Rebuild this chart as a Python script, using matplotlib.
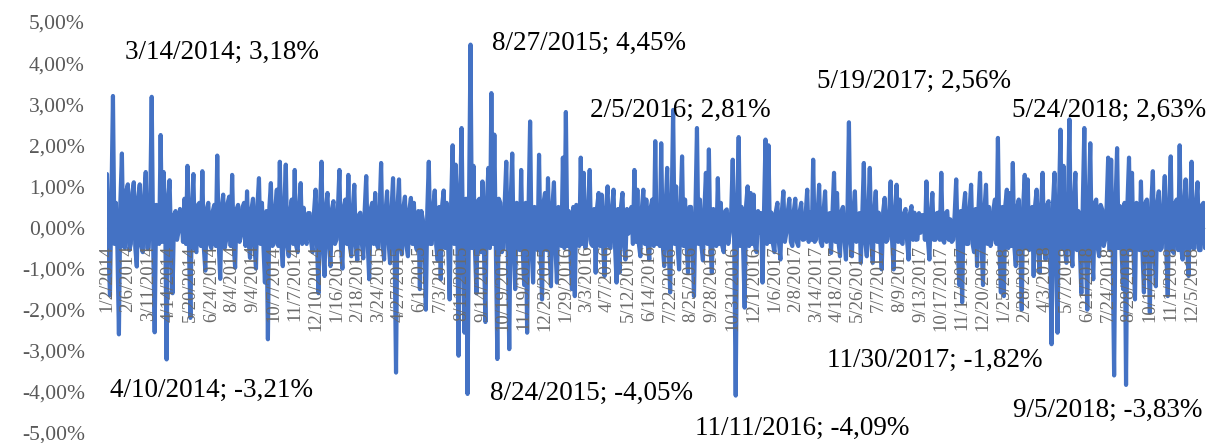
import matplotlib.pyplot as plt
import numpy as np

# Etiquetas del eje x (una cada 14 puntos de la serie)
tick_labels = [
    '1/2/2014', '2/6/2014', '3/11/2014', '4/14/2014', '5/20/2014', '6/24/2014',
    '8/4/2014', '9/4/2014', '10/7/2014', '11/7/2014', '12/10/2014',
    '1/16/2015', '2/18/2015', '3/24/2015', '4/27/2015', '6/1/2015', '7/3/2015',
    '8/11/2015', '9/14/2015', '10/19/2015', '11/19/2015', '12/23/2015',
    '1/29/2016', '3/3/2016', '4/7/2016', '5/12/2016', '6/14/2016', '7/22/2016',
    '8/25/2016', '9/28/2016', '10/31/2016', '12/1/2016',
    '1/6/2017', '2/8/2017', '3/14/2017', '4/18/2017', '5/26/2017', '7/7/2017',
    '8/9/2017', '9/13/2017', '10/17/2017', '11/17/2017', '12/20/2017',
    '1/25/2018', '2/28/2018', '4/3/2018', '5/7/2018', '6/21/2018', '7/24/2018',
    '8/28/2018', '10/1/2018', '11/1/2018', '12/5/2018',
]

# Rentabilidades diarias (%), 14 valores por etiqueta
returns = [
    1.30, -0.60, -1.65, 0.70, 3.20, -0.40, 0.60, -0.55, -2.60, 0.65, 1.80, -0.45, -0.50, 0.90,
    1.05, -0.55, -0.40, 0.85, 1.10, -0.50, -0.95, 0.75, 1.05, -0.45, -0.60, 0.80, 1.35, -0.50,
    -0.50, 0.60, 3.18, -0.45, -2.55, 0.55, 0.40, -0.40, 2.25, -0.35, 1.35, 0.45, -3.21, 0.60,
    1.15, -0.40, -1.60, 0.30, 0.40, -0.30, -0.10, 0.45, 0.35, -0.35, 0.70, -0.40, 1.50, -0.45,
    -2.20, 0.55, 1.30, -0.50, -0.60, 0.55, 0.60, -0.45, 1.37, -0.50, -1.05, 0.45, 0.60, -0.40,
    -0.50, 0.40, 0.55, -0.45, 1.75, -0.40, -1.25, 0.50, 0.80, -0.50, -0.30, 0.60, 0.75, -0.45,
    1.28, -0.40, -0.98, 0.45, 0.55, -0.35, -0.20, 0.50, 0.60, -0.45, 0.88, -0.30, -0.74, 0.45,
    0.70, -0.45, -1.00, 0.55, 1.20, -0.40, 0.60, -0.45, -1.34, 0.40, -2.72, 0.50, 1.08, -0.45,
    -0.40, 0.50, 0.92, -0.45, 1.60, -0.40, -0.94, 0.50, 1.53, -0.45, -0.70, 0.40, 0.68, -0.40,
    1.40, -0.45, -0.60, 0.50, 1.08, -0.40, 0.48, -0.30, -0.40, 0.35, 0.35, -0.35, -0.60, 0.40,
    0.92, -0.45, -1.60, 0.50, 1.60, -0.45, -1.18, 0.50, 0.84, -0.40, -0.94, 0.45, 0.64, -0.40,
    -0.30, 0.45, 1.40, -0.45, -1.00, 0.50, 0.68, -0.40, 1.28, -0.45, -0.70, 0.45, 1.04, -0.45,
    -0.80, 0.30, 0.36, -0.35, -0.75, 0.45, 1.25, -0.40, -1.26, 0.45, 0.60, -0.40, 0.84, -0.40,
    -0.50, 0.45, 1.57, -0.45, -0.78, 0.40, 0.88, -0.35, -0.87, 0.45, 1.20, -0.40, -3.53, 0.50,
    1.17, -0.45, -0.65, 0.50, 0.75, -0.45, -0.70, 0.45, 0.72, -0.40, 0.60, -0.40, -0.55, 0.40,
    -1.50, 0.40, 0.20, -0.45, -2.00, 0.45, 1.60, -0.40, -0.40, 0.50, 0.90, -0.45, -0.80, 0.50,
    -1.26, 0.55, 0.90, -0.50, 0.60, -0.45, -1.75, 0.60, 2.00, -0.40, 1.53, 0.50, -3.12, 0.60,
    2.42, -0.50, -2.56, 0.70, -4.05, 0.60, 4.45, -0.50, 1.50, -0.55, -1.60, 0.65, 0.70, -0.60,
    1.12, -0.50, -2.30, 0.65, 1.45, -0.50, 3.27, -0.40, 2.26, -0.45, -3.20, 0.70, 0.60, -0.60,
    -0.50, 0.65, 1.60, -0.55, -2.96, 0.70, 1.80, -0.50, -1.50, 0.60, 0.50, -0.55, 1.40, -0.50,
    -1.40, 0.60, -2.56, 0.55, 2.58, -0.50, -1.34, 0.50, 0.40, -0.55, 1.77, -0.50, -1.75, 0.60,
    0.84, -0.55, 1.20, -0.50, -1.43, 0.55, 1.10, -0.50, -1.34, 0.50, 0.30, -0.45, 1.70, -0.50,
    2.81, -0.45, 0.40, -0.55, -1.50, 0.50, -1.67, 0.55, 0.30, -0.45, 1.70, -0.40, 1.33, -0.50,
    -0.30, 0.50, 1.40, -0.40, -0.45, 0.45, -1.10, 0.50, 0.84, -0.45, 0.80, -0.45, -1.18, 0.50,
    1.00, -0.45, -0.50, 0.50, 0.92, -0.45, -1.34, 0.45, -1.10, 0.50, 0.84, -0.40, -0.78, 0.45,
    -0.15, 0.40, 0.50, -0.40, 1.40, -0.35, 0.92, -0.40, -0.70, 0.45, 0.92, -0.40, 0.68, -0.45,
    -0.78, 0.50, 0.68, -0.45, 2.10, -0.40, 0.40, -0.45, 2.05, -0.40, -0.94, 0.50, 1.45, -0.45,
    -1.58, 0.50, 2.86, -0.40, 1.00, -0.45, -1.02, 0.50, 1.73, -0.45, 0.68, -0.40, -1.10, 0.50,
    0.50, -0.45, -1.67, 0.50, 2.42, -0.40, 0.68, -0.45, -0.80, 0.45, 1.33, -0.40, 1.90, -0.45,
    -1.10, 0.45, 0.40, -0.45, 1.20, -0.40, 0.60, -0.45, -0.60, 0.40, 0.44, -0.40, -0.13, 0.40,
    1.65, -0.45, -4.09, 0.50, 2.20, -0.45, 0.50, -0.50, -1.95, 0.55, 1.00, -0.45, 0.84, -0.40,
    0.80, -0.45, -0.60, 0.40, -0.13, 0.35, -1.34, 0.45, 2.14, -0.40, 2.00, -0.35, 0.36, -0.40,
    -0.60, 0.40, 0.60, -0.35, -0.78, 0.40, 0.88, -0.35, -0.13, 0.40, 0.70, -0.35, -0.45, 0.40,
    0.70, -0.35, -0.45, 0.40, 0.60, -0.30, -0.29, 0.35, 0.92, -0.35, 0.36, -0.30, 1.65, -0.35,
    -0.29, 0.35, 1.04, -0.35, -0.45, 0.40, 0.88, -0.35, -0.10, 0.35, -0.62, 0.40, 1.33, -0.35,
    0.84, -0.35, -0.70, 0.40, 0.50, -0.30, -0.78, 0.35, 2.56, -0.35, -0.70, 0.40, 0.88, -0.35,
    -0.29, 0.35, -0.86, 0.40, 1.57, -0.35, -0.70, 0.40, 1.45, -0.35, -0.86, 0.40, 0.88, -0.35,
    0.36, -0.30, -1.02, 0.40, 0.72, -0.35, -0.29, 0.35, 1.12, -0.35, -1.02, 0.40, 1.04, -0.35,
    0.68, -0.35, -0.40, 0.35, 0.45, -0.30, -0.78, 0.35, 0.52, -0.30, 0.36, -0.30, -0.29, 0.35,
    -0.13, 0.30, 0.30, -0.30, 1.12, -0.30, -0.78, 0.35, 0.84, -0.30, -0.30, 0.35, 0.36, -0.30,
    1.33, -0.30, -0.37, 0.35, 0.40, -0.30, 0.20, -0.35, -0.30, 0.35, 1.17, -0.35, -1.40, 0.40,
    -1.82, 0.45, 0.84, -0.40, -0.40, 0.45, 1.04, -0.40, -0.60, 0.45, -0.94, 0.50, 1.33, -0.40,
    -1.40, 0.45, 1.04, -0.40, 0.50, -0.45, -0.30, 0.45, 0.68, -0.40, 2.18, -0.45, -1.58, 0.50,
    -1.67, 0.55, 0.92, -0.50, 0.84, -0.45, 1.57, -0.45, -0.94, 0.50, 0.68, -0.50, -2.00, 0.55,
    1.28, -0.50, 1.17, -0.55, -0.40, 0.50, -1.18, 0.55, 0.92, -0.50, -1.10, 0.55, 1.33, -0.50,
    -0.78, 0.55, 0.64, -0.50, -2.84, 0.60, 1.33, -0.55, -2.56, 0.65, 2.38, -0.50, 1.50, -0.55,
    -0.86, 0.60, 2.63, -0.50, -0.94, 0.60, 1.33, -0.55, 0.40, -0.50, -1.60, 0.65, 2.42, -0.55,
    -2.00, 0.60, 2.05, -0.55, -1.26, 0.60, 0.68, -0.50, -0.70, 0.55, 0.44, -0.45, -0.30, 0.55,
    1.70, -0.55, 1.65, -0.60, -3.60, 0.65, 1.93, -0.50, 0.52, -0.55, -1.50, 0.60, -3.83, 0.65,
    1.70, -0.55, 1.33, -0.60, -1.75, 0.60, 0.50, -0.55, 1.12, -0.55, -1.58, 0.60, 0.68, -0.55,
    -2.07, 0.60, 1.37, -0.55, -1.43, 0.60, 0.88, -0.55, -0.50, 0.55, 1.25, -0.55, -1.67, 0.60,
    1.73, -0.55, -0.62, 0.60, 0.68, -0.55, 2.00, -0.50, -0.78, 0.60, 1.17, -0.55, -1.18, 0.60,
    1.60, -0.50, -0.50, 0.60, 1.10, -0.55, -0.55, 0.55, 0.60, -0.50,
]

# Textos de maximos y minimos
notes = [
    '3/14/2014; 3,18%', '4/10/2014; -3,21%', '8/27/2015; 4,45%',
    '8/24/2015; -4,05%', '2/5/2016; 2,81%', '11/11/2016; -4,09%',
    '5/19/2017; 2,56%', '11/30/2017; -1,82%', '5/24/2018; 2,63%',
    '9/5/2018; -3,83%',
]
# posicion de cada texto en pixeles (izquierda, centro vertical)
note_pos = [(125, 52), (110, 390), (492, 43), (490, 393), (590, 110),
            (695, 428), (817, 81), (827, 360), (1012, 110), (1013, 410)]

W, H = 1215, 443
fig = plt.figure(figsize=(W / 100, H / 100), dpi=100)
ax = fig.add_axes([107 / W, 10 / H, 1098 / W, 411 / H])

# Primero los ejes (set_position reinicia los ticks)
for s in ['top', 'right', 'left']:
    ax.spines[s].set_visible(False)
ax.spines['bottom'].set_position(('data', 0))
ax.spines['bottom'].set_color('#D9D9D9')
ax.spines['bottom'].set_zorder(1)

x = np.arange(len(returns))
ax.plot(x, returns, color='#4472C4', linewidth=3.0, solid_joinstyle='round',
        solid_capstyle='round', zorder=2)

ax.set_xlim(0, len(returns) - 1)
ax.set_ylim(-5, 5)
yt = np.arange(-5, 6, 1)
ax.set_yticks(yt)
ax.set_yticklabels([('%.2f' % v).replace('.', ',') + '%' for v in yt],
                   fontfamily='Liberation Serif', fontsize=15.5, color='#595959')
ax.tick_params(axis='y', length=0, pad=16)

ax.set_xticks(np.arange(0, len(tick_labels) * 14, 14))
ax.set_xticklabels(tick_labels, rotation=90, fontfamily='Liberation Serif',
                   fontsize=13.5, color='#6A6A6A', va='top', ha='center')
ax.tick_params(axis='x', length=0, pad=13)
ax.set_axisbelow(False)

for txt, (px, py) in zip(notes, note_pos):
    fig.text(px / W, 1 - py / H, txt, ha='left', va='center',
             fontfamily='Liberation Serif', fontsize=19.5, color='black')

fig.savefig('out.png', dpi=100)
